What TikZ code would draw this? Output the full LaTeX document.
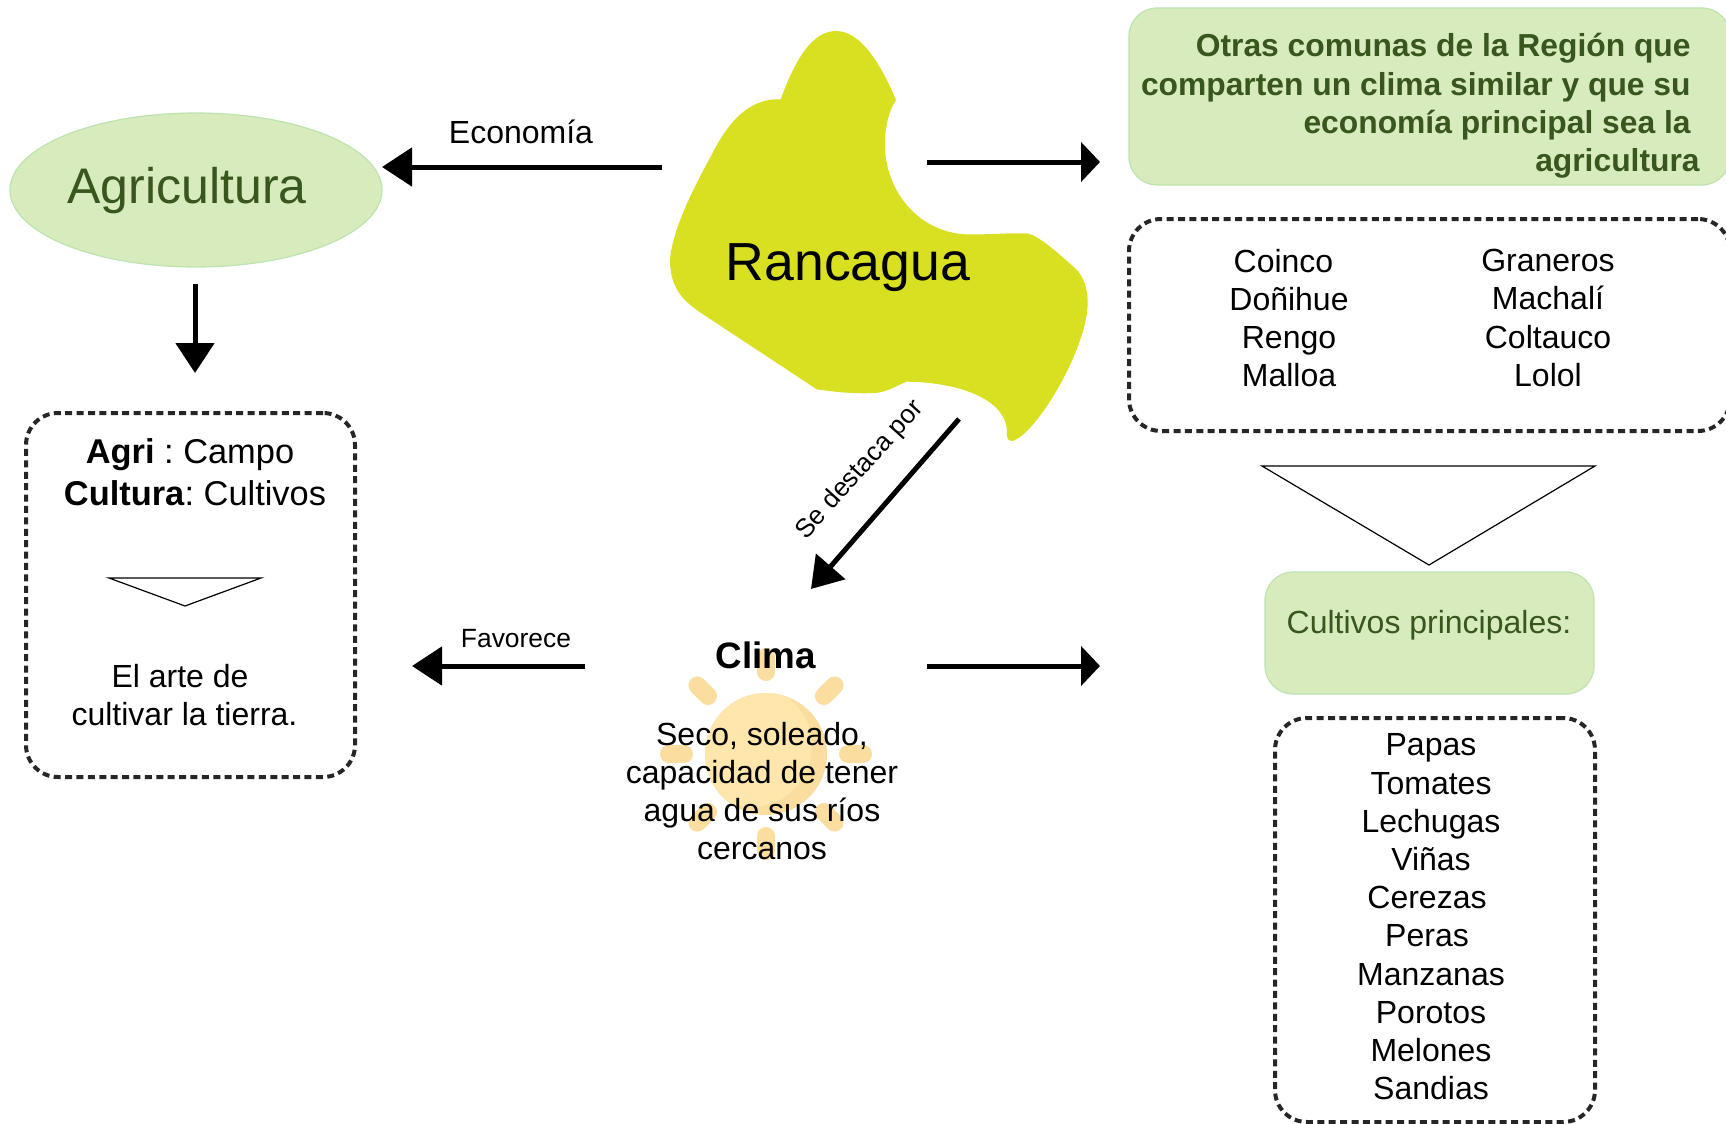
\documentclass[tikz,border=0pt]{standalone}
\usepackage{fontspec}
\setmainfont{Liberation Sans}
\usetikzlibrary{arrows.meta,shapes.geometric}
\definecolor{ranca}{HTML}{D9E021}
\definecolor{palegreen}{HTML}{D8EBBC}
\definecolor{rimgreen}{HTML}{BDE3B0}
\definecolor{darkgreen}{HTML}{38561D}
\definecolor{sunlight}{HTML}{FEE6AC}
\definecolor{sundark}{HTML}{FADD9F}
\tikzset{
 flecha/.style={line width=2.5pt,-{Triangle[length=15pt,width=19pt]}},
 flechacorta/.style={line width=2.5pt,-{Triangle[length=9.5pt,width=19.5pt]}},
 greenbox/.style={draw=rimgreen,fill=palegreen,rounded corners=14pt,line width=0.6pt},
 dashbox/.style={draw=black!85,rounded corners=16pt,line width=2pt,dash pattern=on 3.5pt off 2.2pt},
 punta/.style={draw,fill=white,line width=0.6pt,line join=miter},
 lista/.style={align=center,font=\frenchspacing\fontsize{16}{19.1}\selectfont,inner sep=0pt},
}
\begin{document}
\begin{tikzpicture}[x=0.5pt,y=-0.5pt]
 \useasboundingbox (0,0) rectangle (1726,1124);
 % region
 \fill[ranca] (780.7,99.3) .. controls (795,60) and (812,31) .. (836,31)
  .. controls (860,31) and (880,62) .. (896,100)
  .. controls (888,112) and (885,128) .. (885,145)
  .. controls (885,190) and (918,234) .. (970,234.5)
  .. controls (990,234.5) and (1005,233) .. (1027,233.3)
  .. controls (1040,236) and (1060,255) .. (1076,269)
  .. controls (1084,277) and (1088,290) .. (1087.7,303.3)
  .. controls (1087,350) and (1035,436) .. (1012,441)
  .. controls (1006,441) and (1007,435) .. (1006.7,428)
  .. controls (1002,395) and (950,382) .. (906.7,381.7)
  .. controls (895,386) and (888,392) .. (875,393)
  .. controls (855,394) and (835,392) .. (816.7,389.3)
  -- (706.7,316.7)
  .. controls (685,303) and (670,290) .. (670,260)
  .. controls (672,230) and (695,185) .. (710,158)
  .. controls (725,128) and (745,98) .. (780.7,99.3) -- cycle;
 \node[font=\fontsize{26.8}{30}\selectfont] (rancagua) at (848,267.5) {Rancagua};
 % agricultura
 \node[draw=rimgreen,fill=palegreen,ellipse,line width=0.6pt,minimum width=186pt,minimum height=77pt,inner sep=0pt] (agricultura) at (196,190) {};
 \node[text=darkgreen,font=\fontsize{25}{30}\selectfont] (agriname) at (187,190.5) {Agricultura};
 \node[dashbox,minimum width=164.5pt,minimum height=182pt] (campobox) at (190.5,595) {};
 \node[lista,font=\frenchspacing\fontsize{17.2}{20.9}\selectfont] (agri) at (195,472) {\textbf{Agri} : Campo\kern5pt\\\textbf{Cultura}: Cultivos};
 \draw[punta] (109,578) -- (261,578) -- (185,606) -- cycle;
 \node[lista] (arte) at (184.5,695) {El arte de\kern4.5pt\\cultivar la tierra.};
 % otras comunas
 \node[greenbox,minimum width=300.5pt,minimum height=88.5pt] (otras) at (1429.5,96.5) {};
 \node[lista,align=right,text=darkgreen,font=\frenchspacing\fontsize{15.9}{19.1}\selectfont\bfseries,anchor=east] (otrastxt) at (1700,106) {Otras comunas de la Región que\kern4.5pt\\comparten un clima similar y que su\kern4.5pt\\economía principal sea la\kern4.5pt\\agricultura};
 \node[dashbox,minimum width=300.5pt,minimum height=106pt] (comunasbox) at (1429.5,325) {};
 \node[lista] (comunasa) at (1289,318) {Coinco\kern5.5pt\\Doñihue\\Rengo\\Malloa};
 \node[lista] (comunasb) at (1548,318) {Graneros\\Machalí\\Coltauco\\Lolol};
 \draw[punta] (1262,466) -- (1595,466) -- (1429,565) -- cycle;
 \node[greenbox,minimum width=164.5pt,minimum height=61pt] (cultivos) at (1429.5,633) {};
 \node[lista,text=darkgreen] (cultivostxt) at (1429,625) {Cultivos principales:};
 \node[dashbox,minimum width=160pt,minimum height=202pt] (cultivosbox) at (1435,920) {};
 \node[lista] (frutos) at (1431,917) {Papas\\Tomates\\Lechugas\\Viñas\\Cerezas\kern4pt\\Peras\kern4pt\\Manzanas\\Porotos\\Melones\\Sandias};
 % sol
 \foreach \ang in {0,45,...,315}
  \draw[sundark,line width=9pt,line cap=round] ([shift={(\ang:82)}]766,754) -- ([shift={(\ang:97)}]766,754);
 \fill[sundark] (766,754) circle (30.5pt);
 \begin{scope}
  \clip (766,754) circle (30.5pt);
  \fill[sunlight] (751,746) circle (30.5pt);
 \end{scope}
 \node[lista,font=\fontsize{18.4}{22}\selectfont\bfseries] (clima) at (766,655) {Clima};
 \node[lista] (climatxt) at (762,791) {Seco, soleado,\\capacidad de tener\\agua de sus ríos\\cercanos};
 % flechas
 \coordinate (econa) at (662,167);
 \coordinate (econb) at (382,167);
 \coordinate (otrasa) at (927,162);
 \coordinate (otrasb) at (1100,162);
 \coordinate (agria) at (195,284);
 \coordinate (agrib) at (195,373);
 \coordinate (desta) at (959,419);
 \coordinate (destb) at (811,589);
 \coordinate (fava) at (585,666);
 \coordinate (favb) at (412,666);
 \coordinate (clia) at (927,666);
 \coordinate (clib) at (1100,666);
 \draw[flecha] (econa) -- (econb);
 \draw[flechacorta] (otrasa) -- (otrasb);
 \draw[flecha] (agria) -- (agrib);
 \draw[flecha] (desta) -- (destb);
 \draw[flecha] (fava) -- (favb);
 \draw[flechacorta] (clia) -- (clib);
 \node[font=\fontsize{16}{19}\selectfont] (econtxt) at (521,132) {Economía};
 \node[font=\fontsize{13.2}{16}\selectfont] (favtxt) at (516,639) {Favorece};
 \node[font=\fontsize{13.1}{16}\selectfont,rotate=48] (desttxt) at (860,470) {Se destaca por};
\end{tikzpicture}
\end{document}
